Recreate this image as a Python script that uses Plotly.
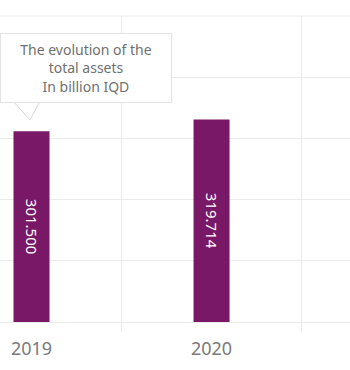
import plotly.graph_objects as go

years = ["2019", "2020"]
total_assets = [301.5, 319.714]
labels = ["301.500", "319.714"]

BAR = "#7a1868"
GRID = "#ebebeb"
FONT = "Noto Sans"

fig = go.Figure()
fig.add_trace(go.Bar(
    x=years, y=total_assets, text=labels,
    textposition="inside", insidetextanchor="middle", textangle=90,
    textfont=dict(family=FONT, size=15, color="white"),
    marker=dict(color=BAR, line=dict(width=0)),
    width=0.2, hoverinfo="skip", cliponaxis=False,
))

# y scale chosen so the picture matches (0 at baseline)
step = 96.68
fig.update_layout(
    width=350, height=370,
    margin=dict(l=0, r=0, t=16, b=48),
    paper_bgcolor="white", plot_bgcolor="white",
    showlegend=False,
    font=dict(family=FONT),
    xaxis=dict(
        type="category", range=[-0.175, 1.769],
        tickson="boundaries", showgrid=True, gridcolor=GRID, gridwidth=1,
        ticks="outside", ticklen=9, tickcolor=GRID,
        tickfont=dict(family=FONT, size=18, color="#7a7a7a"),
        showline=False, zeroline=False, ticklabelstandoff=14,
    ),
    yaxis=dict(
        range=[0, step * 5], tick0=0, dtick=step,
        showgrid=True, gridcolor=GRID, gridwidth=1,
        showticklabels=False, zeroline=True, zerolinecolor=GRID, zerolinewidth=1,
        showline=False,
    ),
)

# top edge grid line
fig.add_shape(type="line", xref="paper", yref="paper", x0=0, x1=1, y0=1, y1=1,
              line=dict(color=GRID, width=1), layer="below")

def px(x):
    return x / 350.0

def py(y):
    return (322.0 - y) / 306.0

# tooltip tail
fig.add_shape(
    type="path", xref="paper", yref="paper",
    path=f"M {px(13)},{py(101)} L {px(30)},{py(120)} L {px(40)},{py(101)} Z",
    fillcolor="white", line=dict(color="#d6d6d6", width=1), layer="above",
)

fig.add_annotation(
    xref="paper", yref="paper", x=px(86), y=py(68),
    xanchor="center", yanchor="middle",
    text="The evolution of the<br>total assets<br>In billion IQD",
    showarrow=False, align="center",
    font=dict(family=FONT, size=14, color="#707070"),
    bgcolor="white", bordercolor="#e2e2e2", borderwidth=1,
    width=168, height=66,
)

fig.write_html("out.html")
